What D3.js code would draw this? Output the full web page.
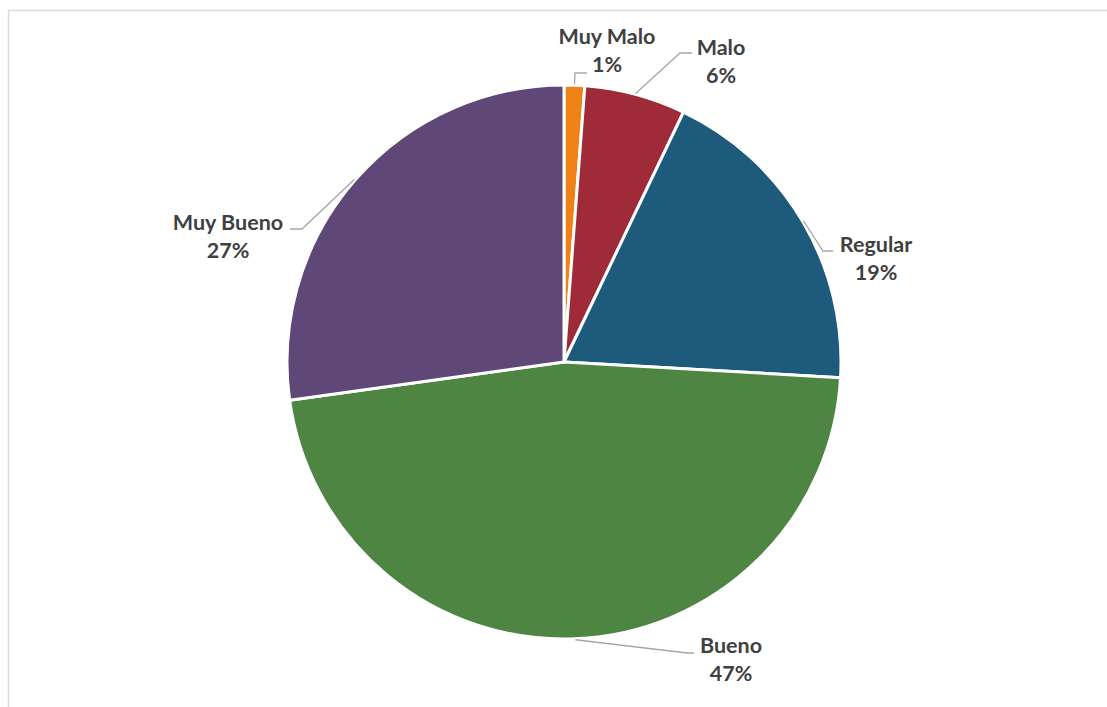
<!DOCTYPE html>
<html>
<head>
<meta charset="utf-8">
<script src="https://cdn.jsdelivr.net/npm/d3@7"></script>
<style>
  html, body { margin: 0; padding: 0; background: #fff; }
  svg { display: block; }
  text { font-family: Lato, "Liberation Sans", sans-serif; font-weight: bold; fill: #404040; }
</style>
</head>
<body>
<script>
// ---- data ----
const categories = ["Muy Malo", "Malo", "Regular", "Bueno", "Muy Bueno"];
const values = [1.2, 5.9, 18.8, 46.9, 27.2];
const colors = ["#EE8217", "#A02B38", "#1E5A7C", "#4E8542", "#5F4877"];

// ---- label layout (relative to pie centre): text centre x, first baseline y, leader elbow, leader end x ----
const labelLayout = [
  { tx: 43,  ty: -318, ex: 11,   ey: -289, hx: 23 },
  { tx: 157, ty: -307, ex: 116,  ey: -309, hx: 128 },
  { tx: 312, ty: -110, ex: 259,  ey: -111, hx: 269 },
  { tx: 167, ty: 291,  ex: 123,  ey: 291,  hx: 130 },
  { tx: -336, ty: -132, ex: -262, ey: -133, hx: -274 }
];

const W = 1107, H = 707;
const cx = 564, cy = 362, R = 277;

const svg = d3.select("body").append("svg").attr("width", W).attr("height", H);

// border of the chart area
svg.append("path")
  .attr("d", `M8.5,${H + 5} L8.5,10.5 L${W + 5},10.5`)
  .attr("fill", "none").attr("stroke", "#d9d9d9").attr("stroke-width", 1.5);

const total = d3.sum(values);
const data = categories.map((c, i) => ({ cat: c, value: values[i], color: colors[i], lay: labelLayout[i] }));

const pie = d3.pie().value(d => d.value).sort(null);
const arc = d3.arc().innerRadius(0).outerRadius(R);
const arcs = pie(data);

const g = svg.append("g").attr("transform", `translate(${cx},${cy})`);

g.selectAll("path.slice").data(arcs).join("path")
  .attr("class", "slice")
  .attr("d", arc)
  .attr("fill", d => d.data.color)
  .attr("stroke", "#fff")
  .attr("stroke-width", 3)
  .attr("stroke-linejoin", "round");

// leader lines
g.selectAll("polyline.leader").data(arcs).join("polyline")
  .attr("class", "leader")
  .attr("fill", "none")
  .attr("stroke", "#a6a6a6")
  .attr("stroke-width", 1.3)
  .attr("points", d => {
    const a = (d.startAngle + d.endAngle) / 2;
    const sx = Math.sin(a) * (R + 1), sy = -Math.cos(a) * (R + 1);
    const L = d.data.lay;
    return `${sx},${sy} ${L.ex},${L.ey} ${L.hx},${L.ey}`;
  });

const fmt = d3.format(".0%");
const labels = g.selectAll("text.lbl").data(arcs).join("text")
  .attr("class", "lbl")
  .attr("text-anchor", "middle")
  .attr("font-size", 21.5)
  .attr("x", d => d.data.lay.tx)
  .attr("y", d => d.data.lay.ty);
labels.append("tspan").attr("x", d => d.data.lay.tx).text(d => d.data.cat);
labels.append("tspan").attr("x", d => d.data.lay.tx).attr("dy", 28).text(d => fmt(d.data.value / total));
</script>
</body>
</html>
